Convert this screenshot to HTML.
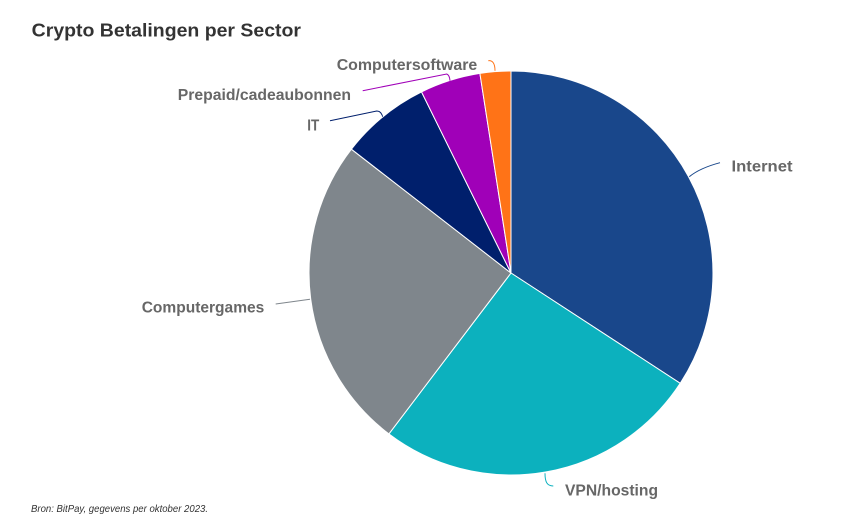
<!DOCTYPE html>
<html>
<head>
<meta charset="utf-8">
<style>
  html,body{margin:0;padding:0;background:#fff;}
  svg{display:block;}
  .lbl{font-family:"Liberation Sans",sans-serif;font-weight:bold;font-size:16px;fill:#676767;}
</style>
</head>
<body>
<svg width="858" height="525" viewBox="0 0 858 525" xmlns="http://www.w3.org/2000/svg">
  <rect width="858" height="525" fill="#ffffff"/>
  <text x="31.7" y="36.7" font-family="Liberation Sans, sans-serif" font-weight="bold" font-size="18.5" fill="#333333" textLength="269.3" lengthAdjust="spacingAndGlyphs">Crypto Betalingen per Sector</text>

  <g stroke="#ffffff" stroke-width="1" stroke-linejoin="round">
    <path d="M511,273 L511,71 A202,202 0 0 1 680.2,383.3 Z" fill="#19478b"/>
    <path d="M511,273 L680.2,383.3 A202,202 0 0 1 388.9,433.9 Z" fill="#0cb1be"/>
    <path d="M511,273 L388.9,433.9 A202,202 0 0 1 351.4,149.2 Z" fill="#7f868c"/>
    <path d="M511,273 L351.4,149.2 A202,202 0 0 1 421.5,91.9 Z" fill="#001f6c"/>
    <path d="M511,273 L421.5,91.9 A202,202 0 0 1 479.9,73.4 Z" fill="#a000b8"/>
    <path d="M511,273 L479.9,73.4 A202,202 0 0 1 511,71 Z" fill="#ff7317"/>
  </g>

  <g fill="none" stroke-width="1">
    <path d="M689.3,176.7 Q700,168 720,162.7" stroke="#19478b"/>
    <path d="M545,473.3 C545,482 547,486 553.3,486" stroke="#0cb1be"/>
    <path d="M275.7,304 L310,299.3" stroke="#7f868c"/>
    <path d="M330,120.7 L376.7,111 Q381,111 382.7,116.7" stroke="#001f6c"/>
    <path d="M362.7,90.7 L446.7,74 Q449.5,75 450,80.7" stroke="#a000b8"/>
    <path d="M488.3,60.7 Q495,60 495,70.7" stroke="#ff7317"/>
  </g>

  <text class="lbl" x="731.5" y="171.5" textLength="61" lengthAdjust="spacingAndGlyphs">Internet</text>
  <text class="lbl" x="565" y="495.5" textLength="93" lengthAdjust="spacingAndGlyphs">VPN/hosting</text>
  <text class="lbl" x="141.7" y="312.3" textLength="122.6" lengthAdjust="spacingAndGlyphs">Computergames</text>
  <text class="lbl" x="307.3" y="130.5" textLength="12" lengthAdjust="spacingAndGlyphs">IT</text>
  <text class="lbl" x="177.7" y="100" textLength="173.3" lengthAdjust="spacingAndGlyphs">Prepaid/cadeaubonnen</text>
  <text class="lbl" x="336.7" y="70" textLength="140.6" lengthAdjust="spacingAndGlyphs">Computersoftware</text>

  <text x="31" y="512" font-family="Liberation Sans, sans-serif" font-style="italic" font-size="10" fill="#333333" textLength="177" lengthAdjust="spacingAndGlyphs">Bron: BitPay, gegevens per oktober 2023.</text>
</svg>
</body>
</html>
